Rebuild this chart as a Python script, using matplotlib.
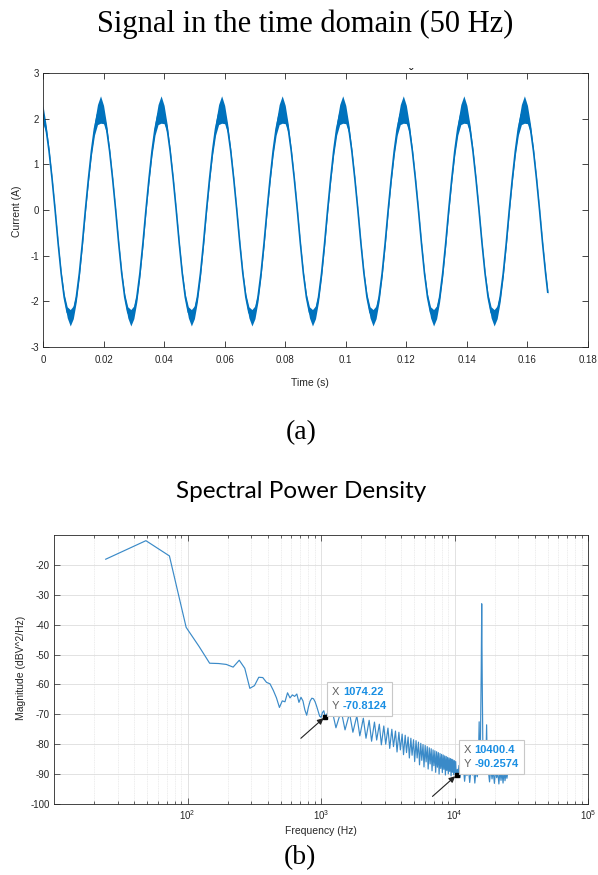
import numpy as np
import matplotlib
matplotlib.use("Agg")
import matplotlib.pyplot as plt
from matplotlib.offsetbox import TextArea, HPacker, VPacker, AnnotationBbox
from matplotlib.ticker import FixedLocator, FixedFormatter, NullFormatter, LogLocator
import matplotlib.transforms as mtransforms

plt.rcParams['font.family'] = ['Liberation Sans', 'DejaVu Sans']
plt.rcParams['mathtext.fontset'] = 'custom'
plt.rcParams['mathtext.rm'] = 'Liberation Sans'
plt.rcParams['mathtext.it'] = 'Liberation Sans'
plt.rcParams['axes.unicode_minus'] = False

# ---------------- (a) time-domain signal ----------------
sample_step_s = 0.001
# centre value of the current band (A), one row per 20 ms cycle
current_center = [
    2.09, 1.78, 1.29, 0.68, 0.00, -0.73, -1.39, -1.91, -2.24, -2.36, -2.24, -1.91, -1.39, -0.73, 0.00, 0.68, 1.29, 1.78, 2.09, 2.20,
    2.09, 1.78, 1.29, 0.68, 0.00, -0.73, -1.39, -1.91, -2.24, -2.36, -2.24, -1.91, -1.39, -0.73, 0.00, 0.68, 1.29, 1.78, 2.09, 2.20,
    2.09, 1.78, 1.29, 0.68, 0.00, -0.73, -1.39, -1.91, -2.24, -2.36, -2.24, -1.91, -1.39, -0.73, 0.00, 0.68, 1.29, 1.78, 2.09, 2.20,
    2.09, 1.78, 1.29, 0.68, 0.00, -0.73, -1.39, -1.91, -2.24, -2.36, -2.24, -1.91, -1.39, -0.73, 0.00, 0.68, 1.29, 1.78, 2.09, 2.20,
    2.09, 1.78, 1.29, 0.68, 0.00, -0.73, -1.39, -1.91, -2.24, -2.36, -2.24, -1.91, -1.39, -0.73, 0.00, 0.68, 1.29, 1.78, 2.09, 2.20,
    2.09, 1.78, 1.29, 0.68, 0.00, -0.73, -1.39, -1.91, -2.24, -2.36, -2.24, -1.91, -1.39, -0.73, 0.00, 0.68, 1.29, 1.78, 2.09, 2.20,
    2.09, 1.78, 1.29, 0.68, 0.00, -0.73, -1.39, -1.91, -2.24, -2.36, -2.24, -1.91, -1.39, -0.73, 0.00, 0.68, 1.29, 1.78, 2.09, 2.20,
    2.09, 1.78, 1.29, 0.68, 0.00, -0.73, -1.39, -1.91, -2.24, -2.36, -2.24, -1.91, -1.39, -0.73, 0.00, 0.68, 1.29, 1.78, 2.09, 2.20,
    2.09, 1.78, 1.29, 0.68, 0.00, -0.73, -1.39,
]
# half thickness of the high-frequency ripple band (A)
ripple_half = [
    0.20, 0.10, 0.05, 0.03, 0.02, 0.03, 0.04, 0.07, 0.12, 0.18, 0.14, 0.10, 0.08, 0.07, 0.06, 0.07, 0.09, 0.14, 0.22, 0.30,
    0.20, 0.10, 0.05, 0.03, 0.02, 0.03, 0.04, 0.07, 0.12, 0.18, 0.14, 0.10, 0.08, 0.07, 0.06, 0.07, 0.09, 0.14, 0.22, 0.30,
    0.20, 0.10, 0.05, 0.03, 0.02, 0.03, 0.04, 0.07, 0.12, 0.18, 0.14, 0.10, 0.08, 0.07, 0.06, 0.07, 0.09, 0.14, 0.22, 0.30,
    0.20, 0.10, 0.05, 0.03, 0.02, 0.03, 0.04, 0.07, 0.12, 0.18, 0.14, 0.10, 0.08, 0.07, 0.06, 0.07, 0.09, 0.14, 0.22, 0.30,
    0.20, 0.10, 0.05, 0.03, 0.02, 0.03, 0.04, 0.07, 0.12, 0.18, 0.14, 0.10, 0.08, 0.07, 0.06, 0.07, 0.09, 0.14, 0.22, 0.30,
    0.20, 0.10, 0.05, 0.03, 0.02, 0.03, 0.04, 0.07, 0.12, 0.18, 0.14, 0.10, 0.08, 0.07, 0.06, 0.07, 0.09, 0.14, 0.22, 0.30,
    0.20, 0.10, 0.05, 0.03, 0.02, 0.03, 0.04, 0.07, 0.12, 0.18, 0.14, 0.10, 0.08, 0.07, 0.06, 0.07, 0.09, 0.14, 0.22, 0.30,
    0.20, 0.10, 0.05, 0.03, 0.02, 0.03, 0.04, 0.07, 0.12, 0.18, 0.14, 0.10, 0.08, 0.07, 0.06, 0.07, 0.09, 0.14, 0.22, 0.30,
    0.20, 0.10, 0.05, 0.03, 0.02, 0.03, 0.04,
]
last_time_s = 0.1667
last_center = -1.80
last_half = 0.05

time_ticks = [0, 0.02, 0.04, 0.06, 0.08, 0.1, 0.12, 0.14, 0.16, 0.18]
time_tick_labels = ['0', '0.02', '0.04', '0.06', '0.08', '0.1', '0.12', '0.14', '0.16', '0.18']
current_ticks = [-3, -2, -1, 0, 1, 2, 3]

# ---------------- (b) spectral power density ----------------
freq_hz = [
    24.4, 48.8, 73.2, 97.7, 122.1, 146.5, 170.9, 195.3, 219.7, 244.1,
    268.6, 293.0, 317.4, 341.8, 366.2, 390.6, 415.0, 439.5, 463.9, 488.3,
    512.7, 537.1, 561.5, 585.9, 610.4, 634.8, 659.2, 683.6, 708.0, 732.4,
    756.8, 781.3, 805.7, 830.1, 854.5, 878.9, 903.3, 927.7, 952.1, 976.6,
    1000.9, 1025.4, 1049.8,
    1074.2, 1196.3, 1293.9, 1416.0, 1513.7, 1635.7, 1733.4, 1855.5, 1953.1, 2075.2,
    2172.9, 2294.9, 2392.6, 2514.6, 2612.3, 2734.4, 2832.0, 2954.1, 3051.8, 3173.8,
    3271.5, 3393.6, 3491.2, 3613.3, 3710.9, 3833.0, 3930.7, 4052.7, 4150.4, 4272.5,
    4370.1, 4492.2, 4589.8, 4711.9, 4809.6, 4931.6, 5029.3, 5151.4, 5249.0, 5371.1,
    5468.8, 5590.8, 5688.5, 5810.5, 5908.2, 6030.3, 6127.9, 6250.0, 6347.7, 6469.7,
    6567.4, 6689.5, 6787.1, 6909.2, 7006.8, 7128.9, 7226.6, 7348.6, 7446.3, 7568.4,
    7666.0, 7788.1, 7885.7, 8007.8, 8105.5, 8227.5, 8325.2, 8447.3, 8544.9, 8667.0,
    8764.6, 8886.7, 8984.4, 9106.4, 9204.1, 9326.2, 9423.8, 9545.9, 9643.6, 9765.6,
    9863.3, 9985.4, 10083.0, 10205.1, 10302.7, 10400.4,
    10500, 10650, 10800, 11000, 11200, 11400, 11650, 11900, 12150, 12400,
    12700, 13000, 13300, 13600, 13900, 14200, 14500, 14800, 15050, 15300,
    15450, 15650, 15850, 15990, 16130, 16300, 16500, 16800, 17100, 17400,
    17600, 17900, 18300, 18700, 19100, 19500, 19900, 20300, 20700, 21100,
    21500, 21900, 22300, 22700, 23100, 23500, 23900, 24300, 24700, 25000,
]
psd_db = [
    -18.1, -11.9, -17.0, -40.9, -47.3, -52.9, -53.0, -53.3, -54.2, -51.9,
    -54.6, -61.3, -60.4, -57.6, -57.7, -59.3, -59.8, -62.0, -64.5, -67.7,
    -65.5, -65.8, -62.8, -64.5, -63.5, -64.0, -63.2, -66.0, -64.3, -65.5,
    -68.5, -70.3, -67.5, -65.5, -64.6, -64.8, -65.8, -67.3, -69.0, -70.6,
    -71.0, -69.4, -68.8,
    -70.81, -67.6, -74.5, -68.8, -75.2, -69.6, -76.0, -70.5, -77.2, -71.3,
    -78.0, -72.0, -79.0, -72.6, -78.6, -73.3, -80.2, -73.9, -80.0, -74.6,
    -81.4, -75.0, -80.8, -75.6, -82.6, -76.0, -81.9, -76.6, -83.5, -77.0,
    -82.8, -77.6, -84.6, -78.0, -83.7, -78.5, -85.8, -78.8, -84.6, -79.3,
    -86.9, -79.7, -85.4, -80.1, -87.6, -80.4, -85.9, -80.8, -88.3, -81.2,
    -86.6, -81.5, -88.9, -81.9, -87.2, -82.2, -89.4, -82.5, -87.7, -82.8,
    -90.0, -83.1, -88.1, -83.4, -89.5, -83.6, -88.4, -83.9, -90.3, -84.1,
    -88.8, -84.4, -89.9, -84.6, -89.1, -84.8, -90.6, -85.0, -89.4, -85.3,
    -90.2, -85.5, -89.6, -85.8, -90.0, -90.26,
    -88.4, -89.9, -87.1, -91.2, -88.0, -89.6, -87.6, -92.4, -88.6, -90.5,
    -87.8, -92.8, -88.4, -90.3, -87.9, -93.0, -88.6, -90.9, -89.2, -72.5,
    -86.5, -79.0, -56.0, -33.0, -58.0, -80.0, -88.5, -86.5, -89.5, -73.5,
    -87.5, -88.6, -92.6, -88.1, -91.6, -89.0, -93.1, -88.5, -91.2, -89.4,
    -93.3, -88.8, -92.1, -89.2, -93.0, -89.0, -92.2, -89.6, -91.4, -89.8,
]
tip_points = [(1074.22, -70.8124), (10400.4, -90.2574)]
tip_x_labels = ['1074.22', '10400.4']
tip_y_labels = ['-70.8124', '-90.2574']
db_ticks = [-100, -90, -80, -70, -60, -50, -40, -30, -20]
freq_major = [1e2, 1e3, 1e4, 1e5]
freq_major_labels = ['$10^{2}$', '$10^{3}$', '$10^{4}$', '$10^{5}$']

# ---------------- figure ----------------
W, H = 598, 875
fig = plt.figure(figsize=(W / 100, H / 100), dpi=100)


def fx(px):
    return px / W


def fy(py):
    return 1 - py / H


ink = '#262626'
matlab_blue = '#0072BD'

# (a)
ax1 = fig.add_axes([fx(43), fy(347), fx(588) - fx(43), fy(73) - fy(347)])
t = np.append(np.arange(len(current_center)) * sample_step_s, last_time_s)
c = np.append(np.array(current_center), last_center)
h = np.append(np.array(ripple_half), last_half)
ax1.fill_between(t, c - h, c + h, color=matlab_blue, lw=0)
ax1.plot(t, c, color=matlab_blue, lw=1.2)
ax1.set_xlim(0, 0.18)
ax1.set_ylim(-3, 3)
ax1.xaxis.set_major_locator(FixedLocator(time_ticks))
ax1.xaxis.set_major_formatter(FixedFormatter(time_tick_labels))
ax1.set_yticks(current_ticks)
ax1.tick_params(direction='in', length=4, width=0.6, top=True, right=True,
                labelsize=7, colors=ink, labelcolor=ink)
ax1.tick_params(axis='x', pad=6)
ax1.tick_params(axis='y', pad=3)
for s in ax1.spines.values():
    s.set_color(ink)
    s.set_linewidth(0.6)
ax1.annotate('ˇ', xy=(0.1215, 1.0), xycoords=mtransforms.blended_transform_factory(ax1.transData, ax1.transAxes),
             xytext=(0, -5.5), textcoords='offset points',
             ha='center', va='bottom', fontsize=9, fontweight='bold', color=ink, annotation_clip=False)

fig.text(fx(305), fy(24), 'Signal in the time domain (50 Hz)', ha='center', va='center',
         fontsize=22, family='Liberation Serif', color='black')
fig.text(fx(310), fy(383), 'Time (s)', ha='center', va='center', fontsize=7.5, color=ink)
fig.text(fx(17), fy(211), 'Current (A)', ha='center', va='center', rotation=90, fontsize=7.5, color=ink)
fig.text(fx(301), fy(433), '(a)', ha='center', va='center', fontsize=20, family='Liberation Serif', color='black')

# (b)
fig.text(fx(301), fy(491), 'Spectral Power Density', ha='center', va='center',
         fontsize=17.5, family='Lato', color='black')
ax2 = fig.add_axes([fx(54), fy(804), fx(588) - fx(54), fy(535) - fy(804)])
ax2.set_xscale('log')
ax2.plot(freq_hz, psd_db, color='#3a8ac8', lw=0.85, zorder=3)
ax2.set_xlim(10, 1e5)
ax2.set_ylim(-100, -10)
ax2.set_yticks(db_ticks)
ax2.xaxis.set_major_locator(FixedLocator(freq_major))
ax2.xaxis.set_major_formatter(FixedFormatter(freq_major_labels))
ax2.xaxis.set_minor_locator(LogLocator(base=10, subs=np.arange(2, 10)))
ax2.xaxis.set_minor_formatter(NullFormatter())
ax2.grid(True, which='major', color='#dddddd', lw=0.6, zorder=0)
ax2.grid(True, which='minor', axis='x', color='#e6e6e6', lw=0.5, ls=(0, (1.5, 1)), zorder=0)
ax2.tick_params(which='both', direction='in', top=True, right=True, width=0.5, colors=ink,
                labelsize=7, labelcolor=ink)
ax2.tick_params(which='major', length=4)
ax2.tick_params(which='minor', length=2.5)
ax2.tick_params(axis='y', pad=3)
ax2.tick_params(axis='x', pad=3)
for s in ax2.spines.values():
    s.set_color(ink)
    s.set_linewidth(0.6)
fig.text(fx(321), fy(831), 'Frequency (Hz)', ha='center', va='center', fontsize=7.5, color=ink)
fig.text(fx(21), fy(668), 'Magnitude (dBV^2/Hz)', ha='center', va='center', rotation=90, fontsize=7.5, color=ink)
fig.text(fx(300), fy(858), '(b)', ha='center', va='center', fontsize=20, family='Liberation Serif', color='black')

# data tips
for (px, py), xs, ys in zip(tip_points, tip_x_labels, tip_y_labels):
    ax2.plot([px], [py], marker='s', ms=3, color='black', zorder=6)
    ax2.annotate('', xy=(px, py), xytext=(-17.5, -15.5), textcoords='offset points',
                 arrowprops=dict(arrowstyle='-|>', color='#222222', lw=0.8, mutation_scale=9,
                                 shrinkA=0, shrinkB=1.5), zorder=6)
    kw = dict(size=8, family='Liberation Sans')
    l1 = HPacker(children=[TextArea('X', textprops=dict(color='#606060', **kw)),
                           TextArea(xs, textprops=dict(color='#1a8fe3', weight='bold', **kw))],
                 sep=2.5, align='baseline', pad=0)
    l2 = HPacker(children=[TextArea('Y', textprops=dict(color='#606060', **kw)),
                           TextArea(ys, textprops=dict(color='#1a8fe3', weight='bold', **kw))],
                 sep=2.5, align='baseline', pad=0)
    box = VPacker(children=[l1, l2], sep=3.0, align='left', pad=0)
    ab = AnnotationBbox(box, (px, py), xybox=(5.0, 4.0), xycoords='data', boxcoords='offset points',
                        box_alignment=(0, 0), frameon=True, pad=0.35, fontsize=10,
                        bboxprops=dict(facecolor='white', edgecolor='#c8c8c8', lw=0.8))
    ab.set_zorder(7)
    ax2.add_artist(ab)

fig.savefig('out.png', dpi=100)
